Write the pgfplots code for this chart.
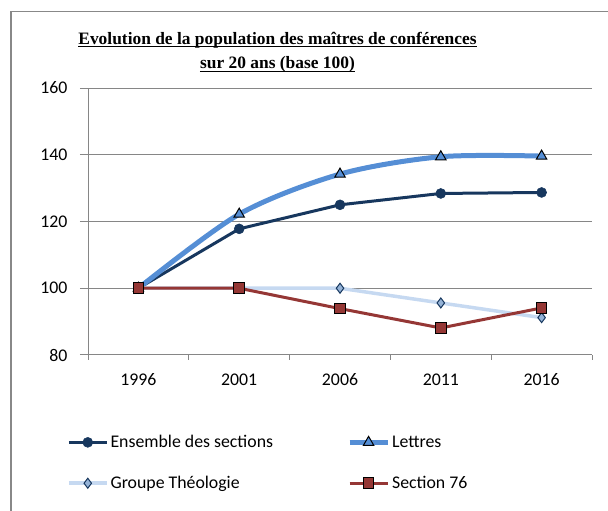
\documentclass[border=0pt]{standalone}
\usepackage{fontspec}
\setmainfont{Carlito}
\newfontfamily\titlefont{Liberation Serif}
\usepackage{pgfplots}
\pgfplotsset{compat=1.18}
\definecolor{navy}{HTML}{17375E}
\definecolor{lettres}{HTML}{558ED5}
\definecolor{theo}{HTML}{C6D9F1}
\definecolor{theofill}{HTML}{95B3D7}
\definecolor{sec}{HTML}{953735}
\definecolor{gridgray}{HTML}{868686}
\definecolor{framegray}{HTML}{888888}
\begin{document}
\begin{tikzpicture}[x=1pt,y=1pt]
\draw[framegray, line width=1.5pt] (11pt,0pt) -- (11pt,499.5pt) -- (608pt,499.5pt);
\node[font=\titlefont\bfseries\fontsize{17.4}{20}\selectfont, anchor=base, inner sep=0pt] (t1) at (277.5pt,466.5pt) {Evolution de la population des maîtres de conférences};
\draw[line width=1.2pt] ([yshift=-2.3pt]t1.base west) -- ([yshift=-2.3pt]t1.base east);
\node[font=\titlefont\bfseries\fontsize{17.4}{20}\selectfont, anchor=base, inner sep=0pt] (t2) at (277.5pt,442pt) {sur 20 ans (base 100)};
\draw[line width=1.2pt] ([yshift=-2.3pt]t2.base west) -- ([yshift=-2.3pt]t2.base east);
\begin{axis}[
  at={(88pt,156pt)}, anchor=south west,
  width=504pt, height=267pt, scale only axis,
  xmin=-0.5, xmax=4.5, ymin=80, ymax=160,
  ytick={80,100,...,160},
  xtick={0,...,4}, xticklabels={1996,2001,2006,2011,2016},
  minor xtick={-0.5,0.5,...,4.5},
  axis x line*=bottom, axis y line*=left,
  axis line style={gridgray, line width=1pt},
  ymajorgrids, grid style={gridgray, line width=1pt},
  major x tick style={draw=none},
  minor x tick style={gridgray, line width=1pt},
  major y tick style={gridgray, line width=1pt},
  tick align=outside,
  major tick length=8pt, minor tick length=5pt,
  ticklabel style={font=\fontsize{17.8}{21}\selectfont},
  yticklabel style={xshift=-9pt},
  xticklabel style={yshift=-7pt},
  /pgf/number format/assume math mode=true,
  legend columns=2,
  legend cell align=left,
  legend style={at={(axis description cs:-0.042,-0.293)}, anchor=north west, draw=none, fill=none,
    font=\fontsize{17.8}{21}\selectfont, row sep=23pt, inner sep=0pt,
    /tikz/every even column/.append style={column sep=72pt}},
  legend image code/.code={\draw[mark repeat=2,mark phase=2] plot coordinates {(0pt,0pt) (19pt,0pt) (38pt,0pt)};},
]
\addplot[navy, line width=3pt, mark=*, mark size=5pt, mark options={solid, line width=0.5pt}]
  coordinates {(0,100)(1,117.8)(2,125.0)(3,128.4)(4,128.7)};
\addlegendentry{Ensemble des sections}
\addplot[lettres, line width=5pt, smooth, mark=triangle*, mark size=6pt, mark options={fill=lettres, draw=black, line width=1pt, solid}]
  coordinates {(0,100)(1,122.2)(2,134.2)(3,139.4)(4,139.6)};
\addlegendentry{Lettres}
\addplot[theo, line width=3.5pt, mark=diamond*, mark size=5pt, mark options={fill=theofill, draw=navy, line width=1pt, solid}]
  coordinates {(0,100)(1,100)(2,100)(3,95.6)(4,91.2)};
\addlegendentry{Groupe Théologie}
\addplot[sec, line width=3pt, mark=square*, mark size=5.3pt, mark options={fill=sec, draw=black, line width=1pt, solid}]
  coordinates {(0,100)(1,100)(2,93.9)(3,88.1)(4,94.1)};
\addlegendentry{Section 76}
\end{axis}
\pgfresetboundingbox
\path[use as bounding box] (0pt,0pt) rectangle (608pt,511pt);
\end{tikzpicture}
\end{document}
